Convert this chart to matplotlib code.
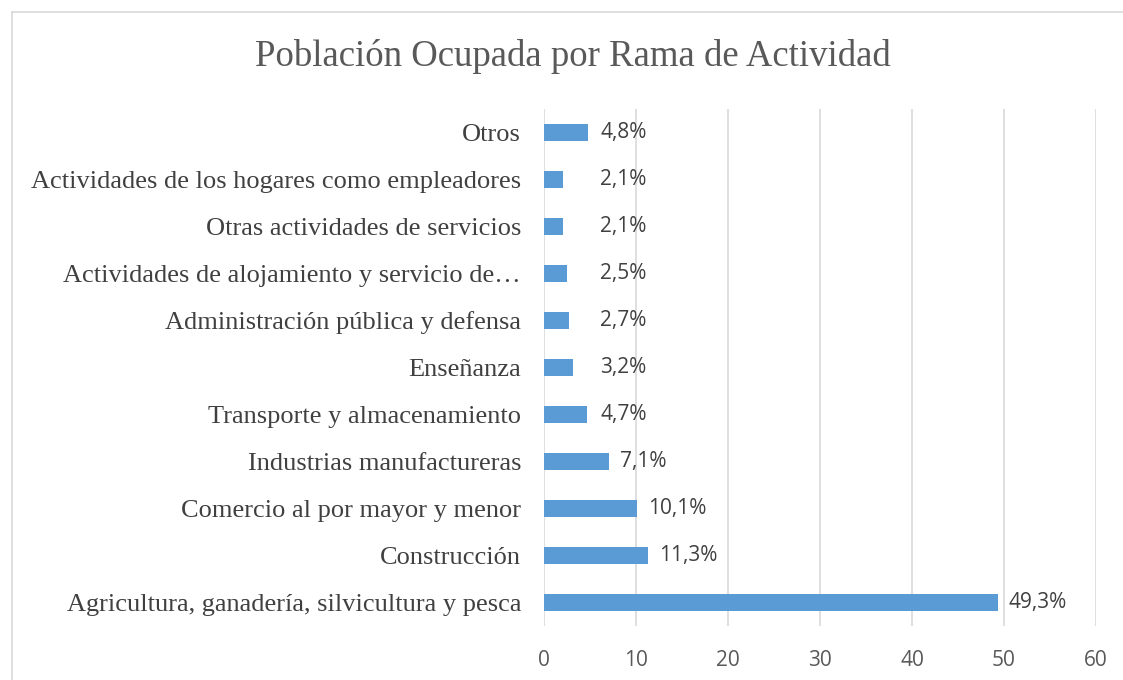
import matplotlib.pyplot as plt
from matplotlib.lines import Line2D

# data (bottom to top)
categories = [
    "Agricultura, ganadería, silvicultura y pesca",
    "Construcción",
    "Comercio al por mayor y menor",
    "Industrias manufactureras",
    "Transporte y almacenamiento",
    "Enseñanza",
    "Administración pública y defensa",
    "Actividades de alojamiento y servicio de…",
    "Otras actividades de servicios",
    "Actividades de los hogares como empleadores",
    "Otros",
]
values = [49.3, 11.3, 10.1, 7.1, 4.7, 3.2, 2.7, 2.5, 2.1, 2.1, 4.8]
labels = ["49,3%", "11,3%", "10,1%", "7,1%", "4,7%", "3,2%", "2,7%", "2,5%", "2,1%", "2,1%", "4,8%"]
xticks = [0, 10, 20, 30, 40, 50, 60]

fig = plt.figure(figsize=(11.23, 6.8), dpi=100)
ax = fig.add_axes([0.4844, 0.0787, 0.4916, 0.7617])

y = list(range(len(categories)))
ax.barh(y, values, height=0.36, color='#5B9BD5', zorder=3)

ax.set_xlim(0, 60)
ax.set_ylim(-0.5, len(categories) - 0.5)
ax.set_xticks(xticks)
ax.set_xticklabels([str(t) for t in xticks], family='Open Sans', fontsize=15, color='#595959')
ax.set_yticks(y)
ax.set_yticklabels(categories, family='Liberation Serif', fontsize=19, color='#404040')
ax.tick_params(axis='both', length=0)
ax.tick_params(axis='y', pad=16.5)
ax.tick_params(axis='x', pad=17)
for s in ax.spines.values():
    s.set_visible(False)
ax.grid(axis='x', color='#D9D9D9', linewidth=1.2, zorder=0)
ax.set_axisbelow(True)

# data labels
for yi, v, lab in zip(y, values, labels):
    ax.annotate(lab, (max(v, 4.9), yi), xytext=(8, 0), textcoords='offset points',
                va='center', ha='left', family='Open Sans', fontsize=15, color='#404040')

fig.text(0.51, 1 - 57 / 680, "Población Ocupada por Rama de Actividad",
         ha='center', va='center', family='Liberation Serif', fontsize=26.5, color='#595959')

# chart border (clipped at right and bottom)
x0, y0 = 12 / 1123, 1 - 12 / 680
fig.add_artist(Line2D([x0, x0], [0, y0], color='#D9D9D9', linewidth=1.2))
fig.add_artist(Line2D([x0, 1], [y0, y0], color='#D9D9D9', linewidth=1.2))

fig.savefig('out.png', dpi=100)
